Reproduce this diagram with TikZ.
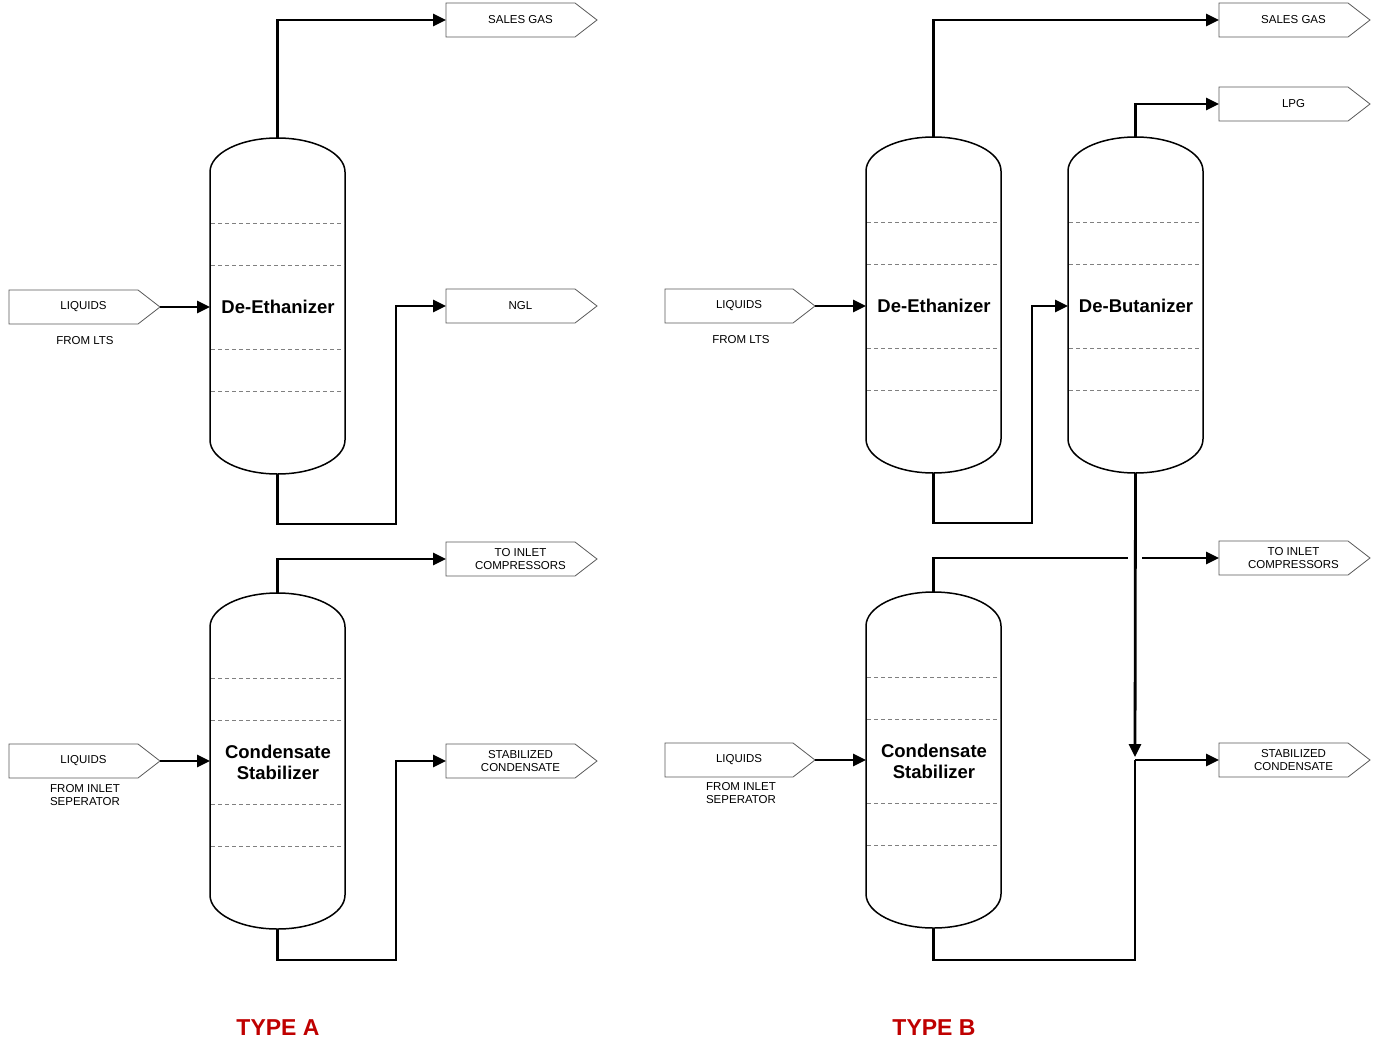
\documentclass[tikz,border=0pt]{standalone}
\usepackage{fontspec}
\setmainfont{Liberation Sans}
\usetikzlibrary{arrows.meta}
\begin{document}
\begin{tikzpicture}[x=1pt,y=-1pt,
  flow/.style={line width=2.8pt,-{Triangle[length=13pt,width=12pt]}},
  pipe/.style={line width=2.8pt},
  tray/.style={dash pattern=on 4pt off 3pt,gray,line width=0.8pt},
  tagtxt/.style={font=\fontsize{11.5}{12.5}\selectfont,align=center},
  vlabel/.style={font=\fontsize{18.5}{21}\selectfont\bfseries,align=center}]
\useasboundingbox (0,0) rectangle (1380,1055);
\newcommand\tagbox[5]{% name, x, y(top), width, text
  \draw[gray!70!black,line width=0.8pt] (#2,#3) -- ++(#4-22,0) -- ++(22,17) -- ++(-22,17) -- ++(-#4+22,0) -- cycle;
  \coordinate (#1) at (#2,#3+17);
  \coordinate (#1e) at (#2+#4,#3+17);
  \node[tagtxt] (#1t) at (#2+#4/2-1,#3+17) {#5};}
\newcommand\vessel[4]{% name, x-left, y-top, label
  \draw[line width=1.5pt] (#2,#3+34) arc[start angle=180,end angle=360,x radius=67.5,y radius=34]
     -- ++(0,268) arc[start angle=0,end angle=180,x radius=67.5,y radius=34] -- cycle;
  \foreach \d in {85,127,211,253} \draw[tray] (#2+1,#3+\d) -- (#2+134,#3+\d);
  \coordinate (#1top) at (#2+67.5,#3);
  \coordinate (#1bot) at (#2+67.5,#3+336);
  \coordinate (#1w) at (#2,#3+169);
  \node[vlabel] (#1l) at (#2+68,#3+169) {#4};}
% TYPE A
\vessel{a1}{210}{138}{De-Ethanizer}
\vessel{a2}{210}{593}{Condensate\\Stabilizer}
\tagbox{liqa}{9}{290}{151}{LIQUIDS}
\node[tagtxt] (fla) at (85,341) {FROM LTS};
\tagbox{liqb}{9}{744}{151}{LIQUIDS}
\node[tagtxt] (flb) at (85,795) {FROM INLET\\SEPERATOR};
\tagbox{sga}{446}{3}{151}{SALES GAS}
\tagbox{ngl}{446}{289}{151}{NGL}
\tagbox{tica}{446}{542}{151}{TO INLET\\COMPRESSORS}
\tagbox{sca}{446}{744}{151}{STABILIZED\\CONDENSATE}
\draw[flow] (liqae) -- (liqae -| a1w);
\draw[flow] (liqbe) -- (liqbe -| a2w);
\draw[flow] (a1top) |- (sga);
\draw[flow] (a1bot) -- ++(0,50) -| (396,306) -- (ngl);
\draw[flow] (a2top) |- (tica);
\draw[flow] (a2bot) -- ++(0,31) -| (396,761) -- (sca);
\node[font=\fontsize{23}{25}\selectfont\bfseries,text=red!75!black] (ta) at (278,1028) {TYPE A};
% TYPE B
\vessel{b1}{866}{137}{De-Ethanizer}
\vessel{b2}{1068}{137}{De-Butanizer}
\vessel{b3}{866}{592}{Condensate\\Stabilizer}
\tagbox{liqc}{665}{289}{150}{LIQUIDS}
\node[tagtxt] (flc) at (741,340) {FROM LTS};
\tagbox{liqd}{665}{743}{150}{LIQUIDS}
\node[tagtxt] (fld) at (741,793) {FROM INLET\\SEPERATOR};
\tagbox{sgb}{1219}{3}{151}{SALES GAS}
\tagbox{lpg}{1219}{87}{151}{LPG}
\tagbox{ticb}{1219}{541}{151}{TO INLET\\COMPRESSORS}
\tagbox{scb}{1219}{743}{151}{STABILIZED\\CONDENSATE}
\draw[flow] (liqce) -- (liqce -| b1w);
\draw[flow] (liqde) -- (liqde -| b3w);
\draw[flow] (b1top) |- (sgb);
\draw[flow] (b2top) |- (lpg);
\draw[flow] (b1bot) -- ++(0,50) -| (1032,306) -- (b2w);
\coordinate (jn) at (1135,760);
\draw[flow] (b2bot) -- (1135,757);
\draw[pipe] (b3top) |- (1128,558);
\draw[flow] (1142,558) -- (ticb);
\draw[pipe] (b3bot) -- ++(0,32) -| (jn);
\draw[flow] (jn) -- (scb);
\node[font=\fontsize{23}{25}\selectfont\bfseries,text=red!75!black] (tb) at (934,1028) {TYPE B};
\end{tikzpicture}
\end{document}
